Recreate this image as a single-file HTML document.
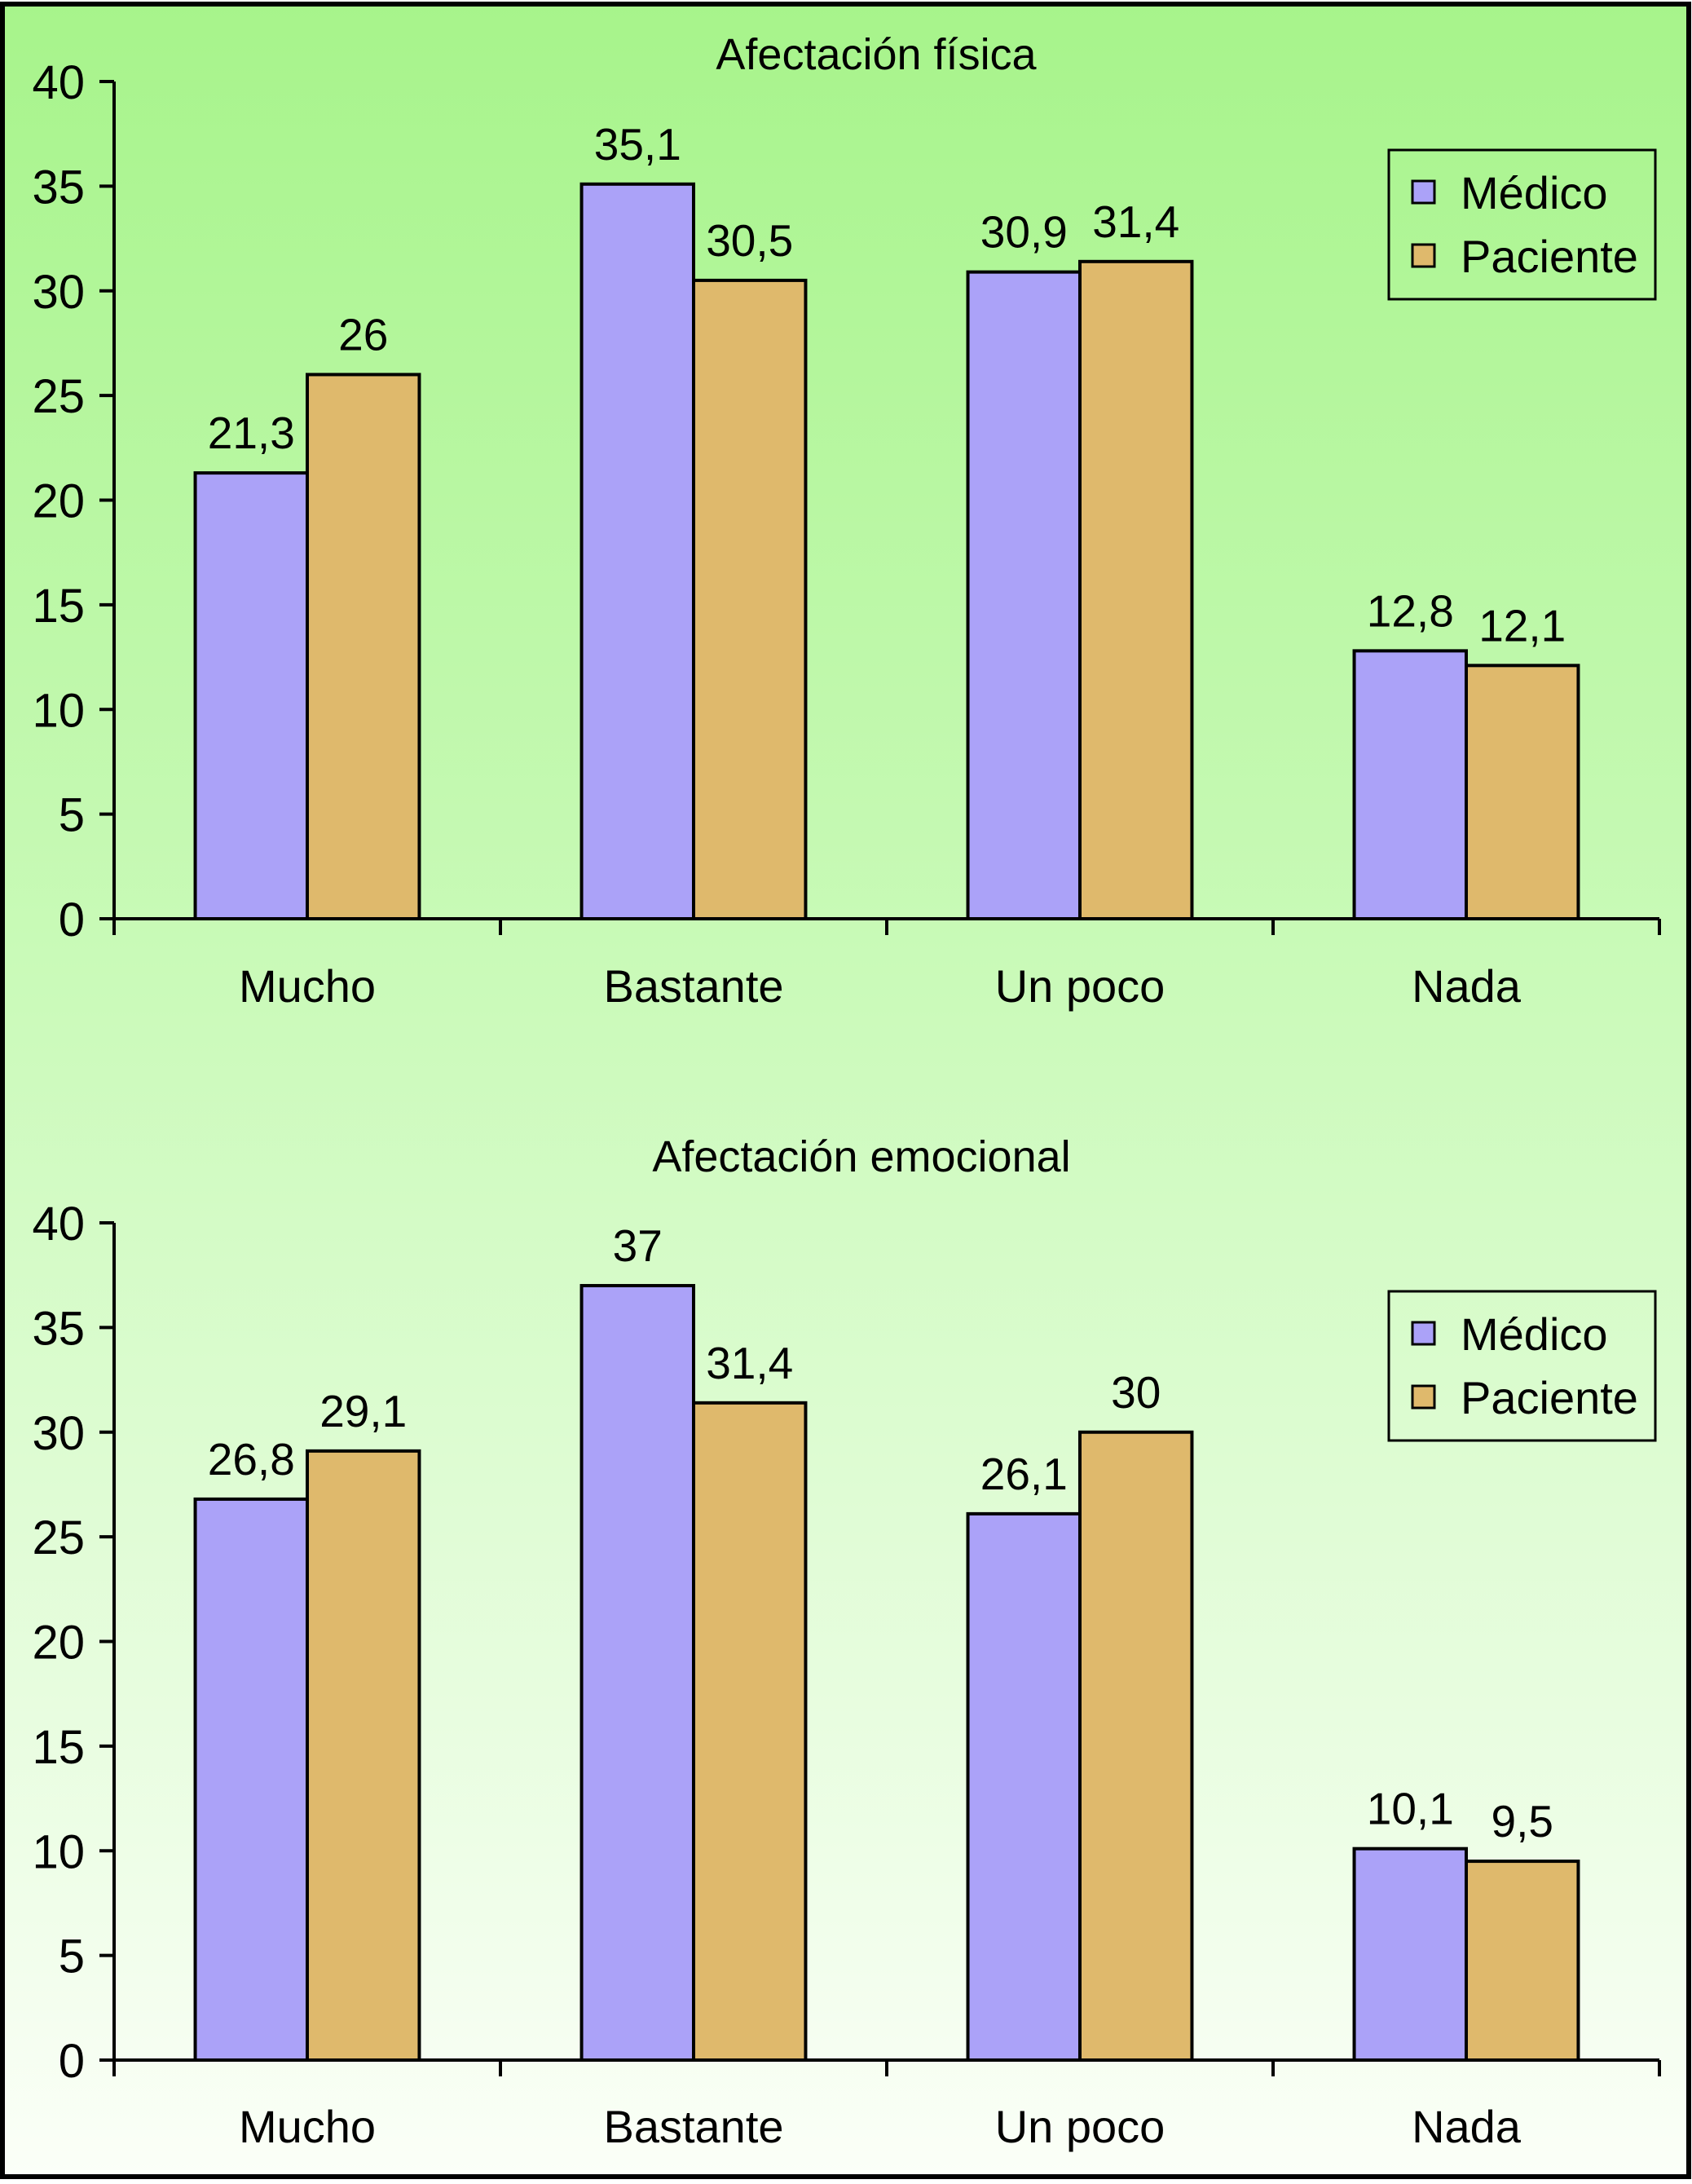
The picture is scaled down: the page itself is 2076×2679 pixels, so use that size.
<!DOCTYPE html>
<html><head><meta charset="utf-8">
<style>
html,body{margin:0;padding:0;}
body{width:2076px;height:2674px;overflow:hidden;font-family:"Liberation Sans",Arial,sans-serif;}
svg text{font-family:"Liberation Sans",Arial,sans-serif;fill:#000;}
</style></head>
<body>
<svg id="chart" width="2076" height="2674" viewBox="0 0 2076 2674" xmlns="http://www.w3.org/2000/svg">
<defs>
<linearGradient id="bg" x1="0" y1="0" x2="0" y2="1">
<stop offset="0" stop-color="#a7f48b"/>
<stop offset="0.45" stop-color="#cafab9"/>
<stop offset="1" stop-color="#fbfff8"/>
</linearGradient>
</defs>
<rect x="3" y="5" width="2069" height="2665" fill="url(#bg)" stroke="#000" stroke-width="6"/>
</svg>
<script>
const categories = ["Mucho","Bastante","Un poco","Nada"];
const series = ["Médico","Paciente"];
const fisicaMedico = [21.3,35.1,30.9,12.8];
const fisicaPaciente = [26,30.5,31.4,12.1];
const emocionalMedico = [26.8,37,26.1,10.1];
const emocionalPaciente = [29.1,31.4,30,9.5];
const yTicks = [0,5,10,15,20,25,30,35,40];
const titles = ["Afectación física","Afectación emocional"];

const NS="http://www.w3.org/2000/svg";
const svg=document.getElementById('chart');
const colors=["#aba2f8","#dfb96c"];
function el(tag,attrs,parent){const e=document.createElementNS(NS,tag);for(const k in attrs)e.setAttribute(k,attrs[k]);(parent||svg).appendChild(e);return e;}
function fmt(v){return String(v).replace('.',',');}

function drawPanel(idx,medico,paciente,y0,y40,titleX,titleY,catY,legendY){
  const g=el('g',{});
  
  
  const x0=140,x1=2036;
  const yScale=v=>y0-(v/40)*(y0-y40);
  const catW=(x1-x0)/categories.length;
  const barW=catW*0.29;
  const t=el('text',{x:titleX,y:titleY,'font-size':54,'text-anchor':'middle'},g);t.textContent=titles[idx];
  
  
  const ya=el('line',{x1:x0,y1:y40,x2:x0,y2:y0,stroke:'#000','stroke-width':4},g);
  
  
  yTicks.forEach(v=>{
    const y=yScale(v);
    el('line',{x1:x0-18,y1:y,x2:x0,y2:y,stroke:'#000','stroke-width':4},g);
    const tl=el('text',{x:x0-36,y:y+21,'font-size':58,'text-anchor':'end'},g);tl.textContent=v;
    
    
  });
  [medico,paciente].forEach((vals,s)=>{
    vals.forEach((v,i)=>{
      const cx=x0+catW*(i+0.5);
      const bx=cx-barW+s*barW;
      const by=yScale(v);
      const r=el('rect',{x:bx,y:by,width:barW,height:y0-by,fill:colors[s],stroke:'#000','stroke-width':4},g);
      
      
      const lb=el('text',{x:bx+barW/2,y:by-30,'font-size':55,'text-anchor':'middle'},g);lb.textContent=fmt(v);
      
      
    });
  });
  const xa=el('line',{x1:x0-18,y1:y0,x2:x1,y2:y0,stroke:'#000','stroke-width':4},g);
  
  
  for(let i=0;i<=categories.length;i++){
    const x=x0+catW*i;
    el('line',{x1:x,y1:y0,x2:x,y2:y0+20,stroke:'#000','stroke-width':4},g);
  }
  categories.forEach((c,i)=>{
    const cl=el('text',{x:x0+catW*(i+0.5),y:catY,'font-size':56,'text-anchor':'middle'},g);cl.textContent=c;
    
    
  });
  const lg=el('g',{},g);
  
  
  el('rect',{x:1704,y:legendY,width:327,height:183,fill:'none',stroke:'#000','stroke-width':3},lg);
  series.forEach((s,k)=>{
    const cy=legendY+52+k*78;
    const sw=el('rect',{x:1733,y:cy-14,width:27,height:27,fill:colors[k],stroke:'#000','stroke-width':3},lg);
    
    
    const lt=el('text',{x:1792,y:cy+20,'font-size':56},lg);lt.textContent=s;
    
    
  });
}
drawPanel(0,fisicaMedico,fisicaPaciente,1127,100,1075,85,1229,184);
drawPanel(1,emocionalMedico,emocionalPaciente,2527,1500,1057,1437,2628,1584);
</script>
</body></html>
